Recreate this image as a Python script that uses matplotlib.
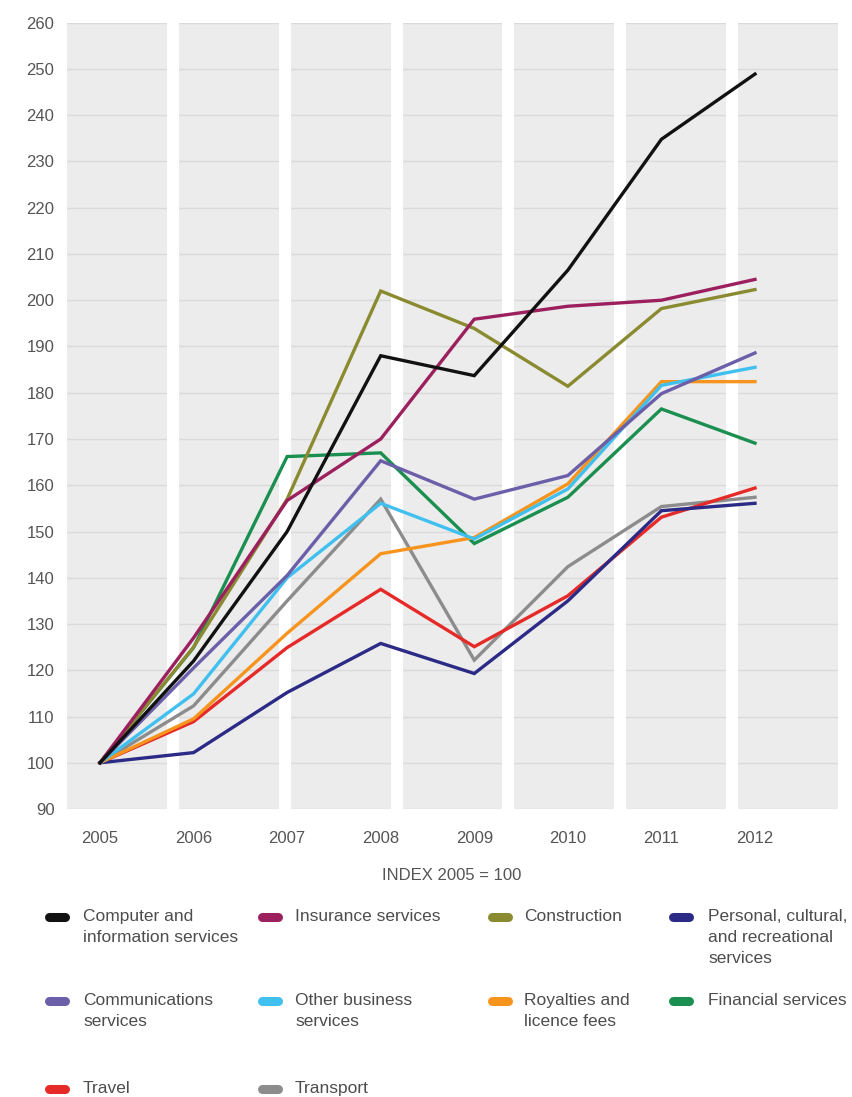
import numpy as np
import matplotlib
matplotlib.use('Agg')
import matplotlib.pyplot as plt
from matplotlib.patches import Rectangle
from matplotlib.lines import Line2D

plt.rcParams['font.family'] = ['Liberation Sans Narrow', 'Liberation Sans', 'DejaVu Sans']

# index 2005 = 100
years = [2005, 2006, 2007, 2008, 2009, 2010, 2011, 2012]

computer = [100, 122, 150, 188, 183.7, 206.5, 234.8, 248.9]
insurance = [100, 127, 156.7, 170, 195.9, 198.7, 200, 204.5]
construction = [100, 125, 157, 202, 193.9, 181.4, 198.2, 202.3]
personal = [100, 102.2, 115.2, 125.8, 119.3, 135, 154.5, 156.1]
communications = [100, 120.5, 140.5, 165.3, 157, 162.1, 179.8, 188.6]
other_business = [100, 114.9, 140, 156.1, 148.4, 159.2, 181.6, 185.5]
royalties = [100, 109.5, 128, 145.2, 148.7, 160.3, 182.4, 182.4]
financial = [100, 124.9, 166.2, 167, 147.4, 157.4, 176.5, 169.1]
travel = [100, 108.9, 124.9, 137.5, 125.1, 136.1, 153.1, 159.4]
transport = [100, 112.3, 135, 157, 122.2, 142.4, 155.4, 157.4]

labels = ["Computer and\ninformation services", "Insurance services", "Construction",
          "Personal, cultural,\nand recreational\nservices",
          "Communications\nservices", "Other business\nservices", "Royalties and\nlicence fees",
          "Financial services", "Travel", "Transport"]
series = [computer, insurance, construction, personal, communications, other_business,
          royalties, financial, travel, transport]
colors = ['#111111', '#9c1f5e', '#8a8a30', '#2b2a86', '#6a5fa8', '#40c0ef',
          '#f7941d', '#1a8f4f', '#e52a27', '#8c8c8c']

yticks = np.arange(90, 261, 10)

fig = plt.figure(figsize=(8.53, 10.97), dpi=100)
ax = fig.add_axes([0.0785, 0.2625, 0.9039, 0.7168])
ax.set_facecolor('#ececec')

# gray panels split by white gaps
gap = 0.0156
w = (1 - 6 * gap) / 7
for k in range(6):
    x0 = (k + 1) * w + k * gap
    ax.add_patch(Rectangle((x0, 0), gap, 1, transform=ax.transAxes,
                           facecolor='white', edgecolor='none', zorder=1))

ax.set_yticks(yticks)
ax.yaxis.grid(True, color='#dadada', linewidth=1, zorder=0.5)
ax.set_axisbelow(True)

# transport and travel first so the others sit on top
order = [9, 8, 3, 7, 6, 5, 4, 2, 1, 0]
for i in order:
    ax.plot(years, series[i], color=colors[i], linewidth=2.4, zorder=3,
            solid_joinstyle='miter')

ax.set_xlim(2004.647, 2012.887)
ax.set_ylim(90, 260)
ax.set_xticks(years)
ax.set_xticklabels([str(y) for y in years])
ax.tick_params(length=0, labelsize=12, colors='#555555', pad=16)
ax.tick_params(axis='y', pad=9)
for s in ax.spines.values():
    s.set_visible(False)

fig.text(0.53, 1 - 875 / 1097, 'INDEX 2005 = 100', ha='center', va='center',
         fontsize=12, color='#555555')

# legend laid out as a 4-column grid
marker_x = [57, 270, 500, 681]
text_x = [83, 295, 524, 708]
row_y = [917, 1001, 1089]
W, H = 853, 1097
for i, lab in enumerate(labels):
    r, c = divmod(i, 4)
    yc = 1 - row_y[r] / H
    fig.add_artist(Line2D([(marker_x[c] - 8) / W, (marker_x[c] + 8) / W], [yc, yc],
                          transform=fig.transFigure, color=colors[i], linewidth=6.5,
                          solid_capstyle='round'))
    fig.text(text_x[c] / W, yc + 8 / H, lab, ha='left', va='top', fontsize=12.5,
             color='#4d4d4d', linespacing=1.5)

fig.savefig('out.png', dpi=100)
